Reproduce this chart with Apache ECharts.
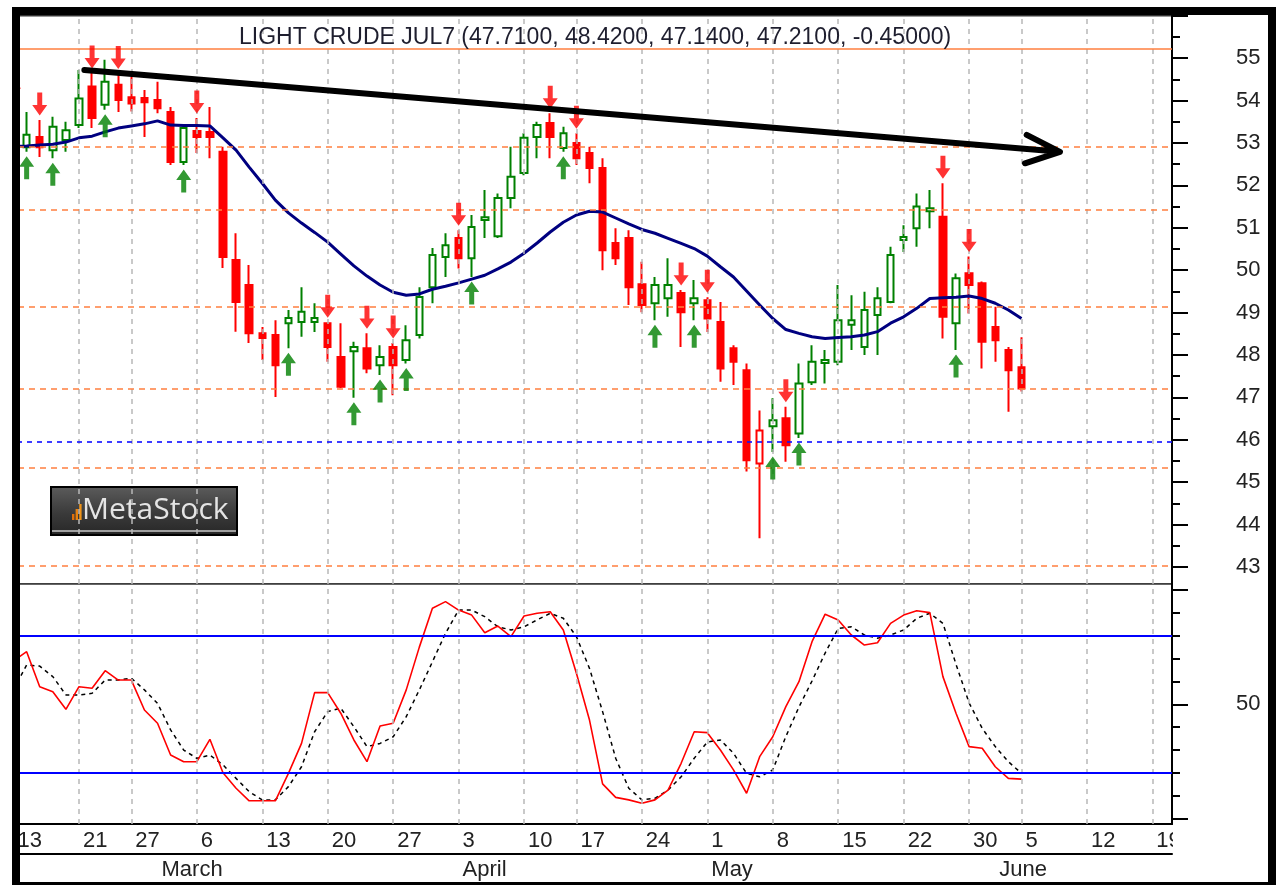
<!DOCTYPE html>
<html>
<head>
<meta charset="utf-8">
<title>LIGHT CRUDE JUL7</title>
<script src="https://cdn.jsdelivr.net/npm/echarts@6/dist/echarts.min.js"></script>
<style>
  html, body { margin: 0; padding: 0; background: #fff; }
  #chart { width: 1276px; height: 885px; }
</style>
</head>
<body>
<div id="chart"></div>
<script>
// trading days shown on the axis (Feb 13 .. Jun 20, 2017)
var dates = [
  '2017-02-13','2017-02-14','2017-02-15','2017-02-16','2017-02-17',
  '2017-02-21','2017-02-22','2017-02-23','2017-02-24',
  '2017-02-27','2017-02-28','2017-03-01','2017-03-02','2017-03-03',
  '2017-03-06','2017-03-07','2017-03-08','2017-03-09','2017-03-10',
  '2017-03-13','2017-03-14','2017-03-15','2017-03-16','2017-03-17',
  '2017-03-20','2017-03-21','2017-03-22','2017-03-23','2017-03-24',
  '2017-03-27','2017-03-28','2017-03-29','2017-03-30','2017-03-31',
  '2017-04-03','2017-04-04','2017-04-05','2017-04-06','2017-04-07',
  '2017-04-10','2017-04-11','2017-04-12','2017-04-13',
  '2017-04-17','2017-04-18','2017-04-19','2017-04-20','2017-04-21',
  '2017-04-24','2017-04-25','2017-04-26','2017-04-27','2017-04-28',
  '2017-05-01','2017-05-02','2017-05-03','2017-05-04','2017-05-05',
  '2017-05-08','2017-05-09','2017-05-10','2017-05-11','2017-05-12',
  '2017-05-15','2017-05-16','2017-05-17','2017-05-18','2017-05-19',
  '2017-05-22','2017-05-23','2017-05-24','2017-05-25','2017-05-26',
  '2017-05-30','2017-05-31','2017-06-01','2017-06-02',
  '2017-06-05','2017-06-06','2017-06-07','2017-06-08','2017-06-09',
  '2017-06-12','2017-06-13','2017-06-14','2017-06-15','2017-06-16',
  '2017-06-19','2017-06-20'
];
var monthNames = ['January','February','March','April','May','June','July'];

// [open, high, low, close]
var candles = [
  [53.80, 53.95, 53.00, 53.25], [52.90, 53.73, 52.79, 53.19], [53.14, 53.54, 52.67, 52.90],
  [52.83, 53.62, 52.64, 53.38], [53.07, 53.50, 52.79, 53.30], [53.42, 54.72, 53.35, 54.05],
  [54.33, 54.65, 53.35, 53.59], [53.90, 54.96, 53.78, 54.44], [54.37, 54.64, 53.73, 54.01],
  [54.08, 54.56, 53.74, 53.93], [54.06, 54.25, 53.14, 53.96], [54.01, 54.44, 53.70, 53.82],
  [53.73, 53.85, 52.48, 52.55], [52.55, 53.40, 52.48, 53.35], [53.28, 53.59, 52.76, 53.14],
  [53.26, 53.85, 52.64, 53.14], [52.79, 52.91, 50.05, 50.31], [50.24, 50.87, 48.55, 49.25],
  [49.65, 50.12, 48.28, 48.51], [48.51, 48.66, 47.88, 48.40], [48.47, 48.82, 47.01, 47.76],
  [48.75, 49.06, 48.16, 48.87], [48.78, 49.60, 48.43, 49.02], [48.78, 49.22, 48.54, 48.87],
  [48.75, 48.77, 47.84, 48.19], [47.95, 48.75, 47.22, 47.25], [48.09, 48.31, 46.99, 48.19],
  [48.16, 48.51, 47.57, 47.68], [47.76, 48.23, 47.53, 47.95], [48.19, 48.28, 47.05, 47.76],
  [47.88, 48.70, 47.80, 48.35], [48.47, 49.60, 48.39, 49.37], [49.60, 50.52, 49.22, 50.36],
  [50.31, 50.87, 49.84, 50.59], [50.76, 50.94, 50.04, 50.28], [50.28, 51.30, 49.84, 51.02],
  [51.18, 51.89, 50.76, 51.25], [50.80, 51.81, 50.76, 51.70], [51.70, 52.91, 51.46, 52.20],
  [52.29, 53.23, 52.24, 53.12], [53.14, 53.50, 52.64, 53.42], [53.47, 53.70, 52.64, 53.14],
  [52.88, 53.38, 52.79, 53.23], [53.00, 53.23, 52.48, 52.64], [52.76, 52.91, 52.05, 52.41],
  [52.41, 52.64, 50.00, 50.47], [50.64, 50.99, 50.12, 50.28], [50.76, 50.94, 49.18, 49.60],
  [49.67, 50.20, 49.01, 49.18], [49.22, 49.84, 48.82, 49.65], [49.34, 50.28, 48.90, 49.65],
  [49.46, 49.53, 48.19, 49.01], [49.22, 49.77, 48.82, 49.34], [49.29, 49.36, 48.54, 48.86],
  [48.78, 49.25, 47.37, 47.68], [48.16, 48.23, 47.29, 47.84], [47.64, 47.80, 45.25, 45.52],
  [45.44, 46.69, 43.68, 46.22], [46.32, 46.98, 45.71, 46.46], [46.51, 46.78, 45.48, 45.87],
  [46.15, 47.80, 46.04, 47.33], [47.36, 48.23, 47.29, 47.84], [47.81, 48.12, 47.33, 47.88],
  [47.84, 49.65, 47.76, 48.82], [48.71, 49.41, 48.12, 48.82], [48.19, 49.49, 48.00, 49.06],
  [48.94, 49.60, 48.00, 49.34], [49.25, 50.55, 49.22, 50.36], [50.71, 51.06, 50.43, 50.78],
  [50.99, 51.81, 50.55, 51.50], [51.39, 51.89, 50.99, 51.46], [51.26, 52.05, 48.39, 48.90],
  [48.75, 49.92, 48.12, 49.81], [49.93, 50.32, 48.98, 49.65], [49.69, 49.73, 47.68, 48.31],
  [48.66, 49.14, 47.84, 48.35], [48.12, 48.19, 46.66, 47.64], [47.71, 48.42, 47.14, 47.21]
];
var hollowRedDays = [57];

// moving average (navy line)
var movingAvg = [
  52.92, 52.93, 52.95, 52.97, 53.02, 53.12, 53.16, 53.26, 53.35, 53.40,
  53.45, 53.52, 53.42, 53.41, 53.41, 53.40, 53.12, 52.83, 52.43, 52.05,
  51.65, 51.35, 51.11, 50.89, 50.66, 50.38, 50.10, 49.86, 49.65, 49.48,
  49.41, 49.44, 49.55, 49.62, 49.70, 49.79, 49.88, 50.03, 50.19, 50.40,
  50.64, 50.90, 51.13, 51.30, 51.39, 51.37, 51.23, 51.09, 50.96, 50.87,
  50.75, 50.63, 50.51, 50.33, 50.08, 49.84, 49.51, 49.18, 48.86, 48.60,
  48.51, 48.43, 48.39, 48.41, 48.43, 48.47, 48.55, 48.75, 48.90, 49.10,
  49.33, 49.35, 49.36, 49.39, 49.33, 49.22, 49.06, 48.86
];

// stochastic %K (red) and %D (black dashed)
var stochK = [
  69.0, 73.0, 57.7, 55.5, 47.8, 57.7, 57.0, 64.7, 60.6, 60.6,
  47.5, 41.7, 27.8, 24.9, 24.9, 34.7, 20.1, 13.3, 7.8, 7.8,
  7.8, 19.8, 32.9, 55.1, 55.1, 46.1, 34.4, 24.9, 40.5, 41.7,
  56.3, 75.0, 92.0, 94.9, 91.2, 89.0, 81.3, 84.2, 79.6, 88.6,
  89.8, 90.5, 82.5, 63.6, 43.1, 15.2, 9.3, 8.2, 6.7, 8.2,
  12.5, 24.2, 38.0, 37.6, 30.0, 21.3, 11.1, 27.1, 35.8, 49.0,
  59.9, 77.4, 89.4, 86.9, 80.3, 75.9, 76.9, 85.4, 89.0, 90.9,
  90.1, 62.1, 46.1, 31.5, 30.8, 22.7, 17.6, 17.3
];
var stochD = [
  56.3, 67.2, 66.7, 62.1, 54.1, 54.1, 54.8, 60.6, 60.6, 61.4,
  56.3, 50.4, 38.8, 30.0, 26.4, 27.8, 23.5, 17.6, 11.8, 8.2,
  8.2, 14.0, 22.7, 38.0, 46.8, 48.3, 40.2, 31.5, 32.9, 35.8,
  44.6, 56.3, 68.6, 81.0, 91.2, 91.2, 88.3, 83.9, 82.5, 83.9,
  86.9, 89.8, 87.6, 79.6, 65.7, 46.8, 26.4, 13.3, 8.2, 8.9,
  12.5, 18.3, 26.4, 33.5, 34.4, 28.6, 19.8, 18.3, 21.3, 35.9,
  48.8, 60.2, 72.4, 83.2, 83.9, 80.3, 78.9, 80.3, 82.5, 87.6,
  89.8, 85.4, 67.5, 50.6, 39.5, 31.5, 24.9, 19.8
];

// signal arrows (day indices)
var sellDays = [0, 2, 6, 8, 14, 24, 27, 29, 34, 41, 43, 51, 53, 59, 71, 73];
var buyDays = [1, 3, 7, 13, 21, 26, 28, 30, 35, 42, 49, 52, 58, 60, 72];

// horizontal levels
var orangeLevels = [55.21, 52.91, 51.43, 49.14, 47.21, 45.34, 43.03];
var blueLevel = 45.95;
var stochBands = [20, 80];

// trend line drawn by hand: [day position, price], ending in an open arrow head
var trendLine = [[5.41, 54.72], [79.94, 52.79], [77.40, 53.19], [79.94, 52.79], [77.27, 52.52]];

// axis ticks
var priceMajor = [43, 44, 45, 46, 47, 48, 49, 50, 51, 52, 53, 54, 55, 56];
var priceMinor = [43.5, 44.5, 45.5, 46.5, 47.5, 48.5, 49.5, 50.5, 51.5, 52.5, 53.5, 54.5, 55.5];
var priceLabels = [43, 44, 45, 46, 47, 48, 49, 50, 51, 52, 53, 54, 55];
var stochMajor = [0, 50, 100];
var stochMinor = [10, 20, 30, 40, 60, 70, 80, 90];
var stochLabels = [50];

var FONT = "'Liberation Sans', Arial, sans-serif";

function dayOf(s) { return new Date(s + 'T00:00:00Z'); }
function isWeekStart(i) {
  if (i === 0) return true;
  var d = dayOf(dates[i]), p = dayOf(dates[i - 1]);
  return d.getUTCDay() <= p.getUTCDay() || (d - p) > 4 * 86400000;
}
function isMonthStart(i) {
  return i > 0 && dates[i].slice(5, 7) !== dates[i - 1].slice(5, 7);
}
var weekStarts = [];
dates.forEach(function (d, i) { if (isWeekStart(i)) weekStarts.push(i); });

var gridLineStyle = { color: '#b8b8b8', type: [5, 5], width: 1.5 };
var vLines = weekStarts.map(function (i) { return { xAxis: i, lineStyle: gridLineStyle }; });

var candleData = candles.map(function (r, i) {
  var item = { value: [r[0], r[3], r[2], r[1]] };
  if (hollowRedDays.indexOf(i) >= 0) {
    item.itemStyle = { color: '#fff', borderColor: '#ff0000' };
  }
  return item;
});

var downArrow = 'path://M5,0 L10,0 L10,12 L15,12 L7.5,22 L0,12 L5,12 Z';
var upArrow = 'path://M7.5,0 L15,10 L10,10 L10,22 L5,22 L5,10 L0,10 Z';

var chart = echarts.init(document.getElementById('chart'));

var option = {
  animation: false,
  backgroundColor: '#fff',
  title: {
    text: 'LIGHT CRUDE JUL7 (47.7100, 48.4200, 47.1400, 47.2100, -0.45000)',
    left: 234, top: 21,
    textStyle: { fontFamily: FONT, fontSize: 23, fontWeight: 'normal', color: '#1e1e2e' }
  },
  grid: [
    { left: 7, right: 104, top: 15.7, bottom: 301, show: true, borderColor: '#333', borderWidth: 1.5, backgroundColor: '#fff', outerBoundsMode: 'none' },
    { left: 7, right: 104, top: 584, bottom: 61, show: true, borderColor: '#333', borderWidth: 1.5, backgroundColor: '#fff', outerBoundsMode: 'none' }
  ],
  xAxis: [
    { type: 'category', gridIndex: 0, data: dates,
      axisLine: { show: false, onZero: false }, axisTick: { show: false }, axisLabel: { show: false }, splitLine: { show: false } },
    { type: 'value', gridIndex: 0, min: -0.5, max: dates.length - 0.5, show: false,
      axisLine: { onZero: false }, splitLine: { show: false } },
    { type: 'category', gridIndex: 1, data: dates, position: 'bottom',
      axisLine: { onZero: false, lineStyle: { color: '#000', width: 2 } },
      axisTick: { alignWithLabel: true, length: 30, lineStyle: { color: '#000', width: 2 },
        interval: function (i) { return isWeekStart(i) || isMonthStart(i); } },
      axisLabel: { interval: function (i) { return isWeekStart(i); },
        formatter: function (v) { return String(parseInt(v.slice(8), 10)); },
        align: 'left', verticalAlign: 'top', padding: [0, 0, 0, 4], margin: 6, hideOverlap: false,
        fontFamily: FONT, fontSize: 22, color: '#222' },
      splitLine: { show: false } },
    { type: 'category', gridIndex: 1, data: dates, position: 'bottom', offset: 30,
      axisLine: { onZero: false, lineStyle: { color: '#000', width: 2 } },
      axisTick: { alignWithLabel: true, length: 28, lineStyle: { color: '#000', width: 2 },
        interval: function (i) { return isMonthStart(i); } },
      axisLabel: { interval: function (i) { return isMonthStart(i); },
        formatter: function (v) { return monthNames[parseInt(v.slice(5, 7), 10) - 1]; },
        align: 'left', verticalAlign: 'top', padding: [0, 0, 0, 4], margin: 5, hideOverlap: false,
        fontFamily: FONT, fontSize: 22, color: '#222' },
      splitLine: { show: false } }
  ],
  yAxis: [
    { type: 'value', gridIndex: 0, position: 'right', min: 42.6, max: 56,
      axisLine: { show: true, onZero: false, lineStyle: { color: '#000', width: 2 } },
      axisTick: { show: true, length: 16, customValues: priceMajor, lineStyle: { color: '#000', width: 2 } },
      axisLabel: { customValues: priceLabels, margin: 64, fontFamily: FONT, fontSize: 22, color: '#222' },
      splitLine: { show: false } },
    { type: 'value', gridIndex: 0, position: 'right', min: 42.6, max: 56,
      axisLine: { show: false, onZero: false },
      axisTick: { show: true, length: 8, customValues: priceMinor, lineStyle: { color: '#000', width: 2 } },
      axisLabel: { show: false }, splitLine: { show: false } },
    { type: 'value', gridIndex: 1, position: 'right', min: -2.34, max: 102.6,
      axisLine: { show: true, onZero: false, lineStyle: { color: '#000', width: 2 } },
      axisTick: { show: true, length: 16, customValues: stochMajor, lineStyle: { color: '#000', width: 2 } },
      axisLabel: { customValues: stochLabels, margin: 64, fontFamily: FONT, fontSize: 22, color: '#222' },
      splitLine: { show: false } },
    { type: 'value', gridIndex: 1, position: 'right', min: -2.34, max: 102.6,
      axisLine: { show: false, onZero: false },
      axisTick: { show: true, length: 8, customValues: stochMinor, lineStyle: { color: '#000', width: 2 } },
      axisLabel: { show: false }, splitLine: { show: false } }
  ],
  series: [
    { // price panel grid lines and levels
      type: 'line', xAxisIndex: 0, yAxisIndex: 0, data: [], z: 1, silent: true,
      markLine: {
        silent: true, symbol: ['none', 'none'], label: { show: false },
        data: vLines
          .concat(orangeLevels.map(function (v, k) {
            return { yAxis: v, lineStyle: { color: '#ff7f3f', width: 1.6, type: k === 0 ? 'solid' : [6, 5] } };
          }))
          .concat([{ yAxis: blueLevel, lineStyle: { color: '#1010ff', width: 1.6, type: [5, 5] } }])
      }
    },
    {
      type: 'candlestick', xAxisIndex: 0, yAxisIndex: 0, data: candleData, z: 3,
      barWidth: 7,
      itemStyle: { color: '#fff', color0: '#ff0000', borderColor: '#008000', borderColor0: '#ff0000', borderWidth: 2 }
    },
    {
      type: 'line', xAxisIndex: 0, yAxisIndex: 0, data: movingAvg, z: 4,
      symbol: 'none', lineStyle: { color: '#000080', width: 3 }
    },
    {
      type: 'line', xAxisIndex: 1, yAxisIndex: 0, data: trendLine, z: 6,
      symbol: 'none', lineStyle: { color: '#000', width: 6, cap: 'round', join: 'round' }
    },
    {
      type: 'scatter', xAxisIndex: 0, yAxisIndex: 0, z: 5,
      data: sellDays.map(function (i) { return [i, candles[i][1]]; }),
      symbol: downArrow, symbolSize: [15, 23], symbolOffset: [0, -16],
      itemStyle: { color: '#ff0000' }
    },
    {
      type: 'scatter', xAxisIndex: 0, yAxisIndex: 0, z: 5,
      data: buyDays.map(function (i) { return [i, candles[i][2]]; }),
      symbol: upArrow, symbolSize: [15, 23], symbolOffset: [0, 16],
      itemStyle: { color: '#008000' }
    },
    { // stochastic panel grid lines and bands
      type: 'line', xAxisIndex: 2, yAxisIndex: 2, data: [], z: 1, silent: true,
      markLine: {
        silent: true, symbol: ['none', 'none'], label: { show: false },
        data: vLines.concat(stochBands.map(function (v) {
          return { yAxis: v, lineStyle: { color: '#0000ff', width: 2, type: 'solid' } };
        }))
      }
    },
    {
      type: 'line', xAxisIndex: 2, yAxisIndex: 2, data: stochD, z: 3,
      symbol: 'none', lineStyle: { color: '#000', width: 1.5, type: [4, 4] }
    },
    {
      type: 'line', xAxisIndex: 2, yAxisIndex: 2, data: stochK, z: 4,
      symbol: 'none', lineStyle: { color: '#ff0000', width: 1.6 }
    }
  ],
  graphic: [
    { type: 'rect', z: 100, silent: true, shape: { x: 0, y: 0, width: 13, height: 885 }, style: { fill: '#fff' } },
    { type: 'rect', z: 100, silent: true, shape: { x: 1173, y: 825, width: 96, height: 57 }, style: { fill: '#fff' } },
    { type: 'rect', z: 101, silent: true, shape: { x: 16, y: 11, width: 1256, height: 875 },
      style: { fill: null, stroke: '#000', lineWidth: 8 } },
    { type: 'group', z: 102, silent: true, children: [
      { type: 'rect', shape: { x: 51, y: 487, width: 186, height: 48 },
        style: { fill: new echarts.graphic.LinearGradient(0, 0, 0, 1, [
          { offset: 0, color: '#5c5c5c' }, { offset: 0.55, color: '#3a3a3a' }, { offset: 1, color: '#262626' }
        ]), stroke: '#000', lineWidth: 2 } },
      { type: 'line', shape: { x1: 52, y1: 531, x2: 236, y2: 531 }, style: { stroke: '#c8c8c8', lineWidth: 1.5 } },
      { type: 'rect', shape: { x: 72, y: 514, width: 2.4, height: 6 }, style: { fill: '#e0700a' } },
      { type: 'rect', shape: { x: 75.6, y: 509, width: 2.4, height: 11 }, style: { fill: '#e8820f' } },
      { type: 'rect', shape: { x: 79.2, y: 504, width: 2.4, height: 16 }, style: { fill: '#f09418' } },
      { type: 'text', x: 82, y: 510,
        style: { text: 'MetaStock', fill: '#e4e4e4', font: "30px 'Open Sans', 'Noto Sans', sans-serif", verticalAlign: 'middle' } }
    ] }
  ]
};

chart.setOption(option);
</script>
</body>
</html>
